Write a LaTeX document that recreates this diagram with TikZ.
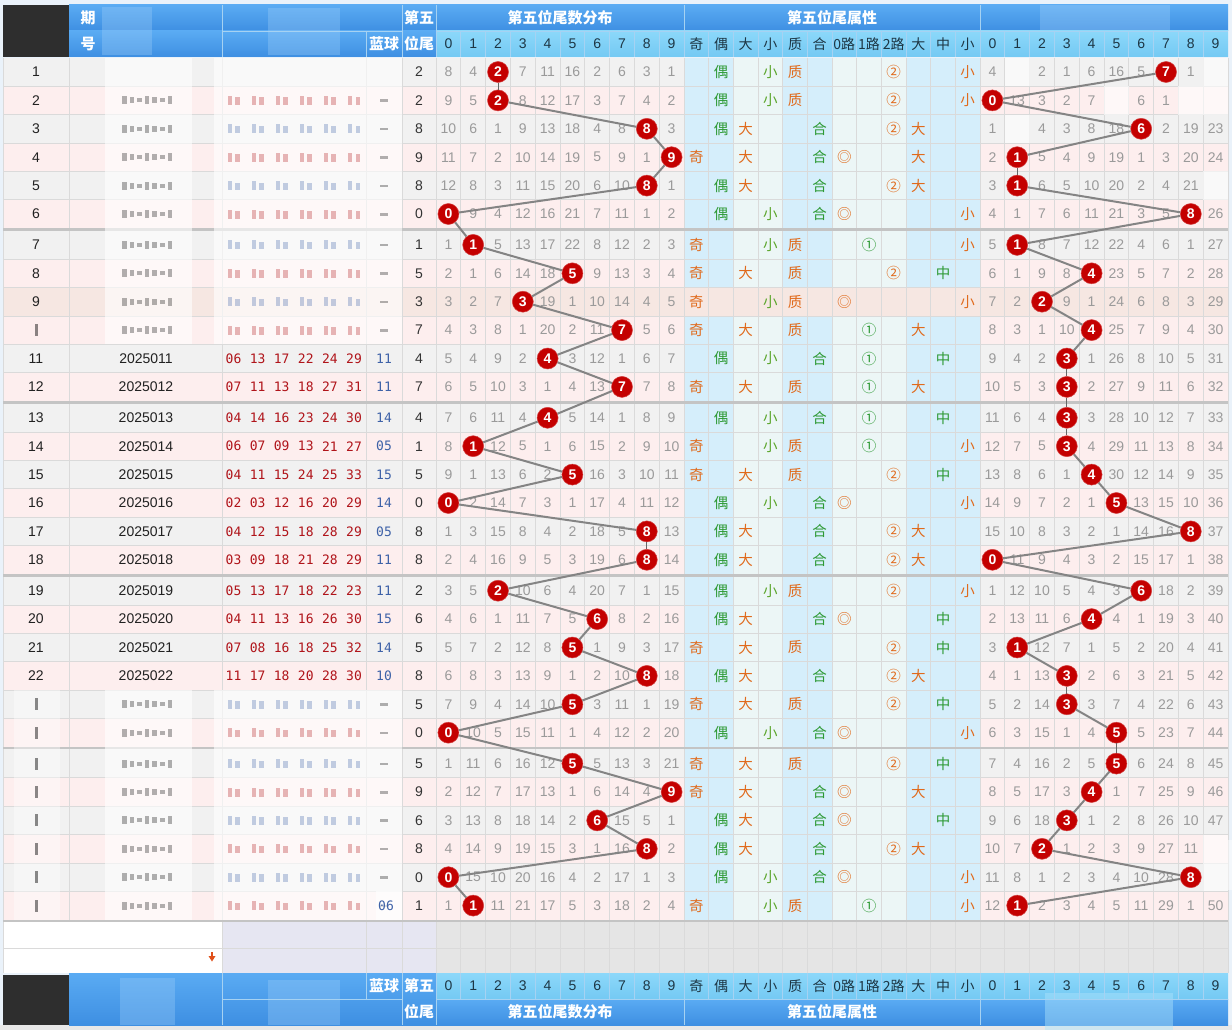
\documentclass[tikz,border=0pt]{standalone}
\usepackage{fontspec}
\setmainfont{Liberation Sans}
\newfontfamily\cjk{Noto Sans CJK SC}
\newfontfamily\monof{DejaVu Sans Mono}
\pgfdeclarelayer{bg}
\pgfsetlayers{bg,main}
\definecolor{pagebg}{HTML}{EAF2FA}
\definecolor{hdrblack}{HTML}{2E2E2E}
\definecolor{hbA}{HTML}{5AABF3}
\definecolor{hbB}{HTML}{3E8FE2}
\definecolor{hcA}{HTML}{8CD8FA}
\definecolor{hcB}{HTML}{74C9F3}
\definecolor{hlinec}{HTML}{A6D2F2}
\definecolor{hdrtext}{HTML}{1D3644}
\definecolor{rowgray}{HTML}{F1F1F1}
\definecolor{rowpink}{HTML}{FDEEEE}
\definecolor{rowbeige}{HTML}{F6E7E2}
\definecolor{attrblue}{HTML}{D5EEFB}
\definecolor{attrlight}{HTML}{ECF6F6}
\definecolor{gridc}{HTML}{DADADA}
\definecolor{sepc}{HTML}{C4C4C4}
\definecolor{distgray}{HTML}{9A9A9A}
\definecolor{ballred}{HTML}{C40000}
\definecolor{conngray}{HTML}{848484}
\definecolor{aorange}{HTML}{E06A1C}
\definecolor{agreen}{HTML}{2E9A35}
\definecolor{alime}{HTML}{5AA52A}
\definecolor{redtxt}{HTML}{B0141A}
\definecolor{bluetxt}{HTML}{3E62A8}
\definecolor{lav}{HTML}{E6E6F2}
\definecolor{emptyg}{HTML}{E5E5E5}
\definecolor{arrowc}{HTML}{E0501A}
\tikzset{
  txt/.style={inner sep=0pt, font=\fontsize{14}{16}\selectfont},
  dist/.style={txt, text=distgray},
  etext/.style={txt, text=black!80},
  ntext/.style={txt, text=black!87},
  redno/.style={inner sep=0pt, text=redtxt, font=\monof\fontsize{13}{15}\selectfont},
  blueno/.style={inner sep=0pt, text=bluetxt, font=\monof\fontsize{13}{15}\selectfont},
  lotball/.style={circle, fill=ballred, draw=ballred!75!white, line width=0.5pt, inner sep=0pt, minimum size=21pt, text=white, font=\fontsize{14}{16}\selectfont\bfseries},
  conn/.style={draw=conngray, line width=2pt},
  connthin/.style={draw=black!60, line width=0.8pt},
  attr/.style={inner sep=0pt, font=\cjk\fontsize{14.5}{16}\selectfont},
  hw/.style={inner sep=0pt, text=white, font=\cjk\fontsize{15}{17}\selectfont\bfseries},
  hd/.style={inner sep=0pt, text=hdrtext, font=\cjk\fontsize{14}{16}\selectfont},
  hdn/.style={inner sep=0pt, text=hdrtext, font=\fontsize{14}{16}\selectfont},
  hl/.style={draw=hlinec, line width=0.8pt},
  gridln/.style={draw=gridc, line width=0.7pt},
  blurwhite/.style={fill=white, fill opacity=0.6},
  smudge/.style={fill opacity=0.3},
}
\def\blurmark{b}
\newcommand\ycalc[1]{\pgfmathsetmacro\yc{72+(#1-1)*28.4+floor((#1-1)/6)*2.5}%
  \pgfmathsetmacro\yt{\yc-14.2}\pgfmathsetmacro\yb{\yc+14.2}}
\newcommand\attrnode[4]{\node[attr,text=#3] (A-#1-#2) at ({696.33+24.667*#2},\yc) {#4};}
\newcommand\drawrow[5]{%
 \ycalc{#1}%
 \expandafter\xdef\csname LE#1\endcsname{#2}%
 \expandafter\xdef\csname RE#1\endcsname{#4}%
 \begin{pgfonlayer}{bg}
  \ifodd#1\relax \fill[rowgray] (3,\yt) rectangle (1228,\yb);
  \else \fill[rowpink] (3,\yt) rectangle (1228,\yb); \fi
  \ifnum#1=9\relax \fill[rowbeige] (3,\yt) rectangle (1228,\yb);
  \else
   \foreach \k in {0,1,4,5,9,10,11} {\fill[attrblue] ({684+24.667*\k},\yt) rectangle ({684+24.667*(\k+1)},\yb);}
   \foreach \k in {2,3,6,7,8} {\fill[attrlight] ({684+24.667*\k},\yt) rectangle ({684+24.667*(\k+1)},\yb);}
  \fi
 \end{pgfonlayer}
 \node[etext] (E-#1) at (419,\yc) {#2};
 \foreach \v [count=\j from 0] in {#3} {%
   \ifnum\j=#2\relax \node[lotball] (L-#1) at ({448.4+24.8*\j},\yc) {\v};%
   \else \node[dist] (L-#1-\j) at ({448.4+24.8*\j},\yc) {\v};\fi}
 \ifodd#2\relax \attrnode{#1}{0}{aorange}{奇}\else \attrnode{#1}{1}{agreen}{偶}\fi
 \ifnum#2>4\relax \attrnode{#1}{2}{aorange}{大}\else \attrnode{#1}{3}{alime}{小}\fi
 \ifcase#2\relax \def\zh{0}\or\def\zh{1}\or\def\zh{1}\or\def\zh{1}\or\def\zh{0}\or\def\zh{1}\or\def\zh{0}\or\def\zh{1}\or\def\zh{0}\else\def\zh{0}\fi
 \ifnum\zh=1\relax \attrnode{#1}{4}{aorange}{质}\else \attrnode{#1}{5}{agreen}{合}\fi
 \pgfmathtruncatemacro\md{mod(#2,3)}%
 \ifcase\md\relax \attrnode{#1}{6}{aorange}{◎}\or \attrnode{#1}{7}{agreen}{①}\or \attrnode{#1}{8}{aorange}{②}\fi
 \ifnum#2>6\relax \attrnode{#1}{9}{aorange}{大}\else\ifnum#2>3\relax \attrnode{#1}{10}{agreen}{中}\else \attrnode{#1}{11}{aorange}{小}\fi\fi
 \foreach \v [count=\j from 0] in {#5} {%
   \edef\tmpv{\v}%
   \ifnum\j=#4\relax \node[lotball] (R-#1) at ({992.4+24.8*\j},\yc) {\v};%
   \else\ifx\tmpv\blurmark \fill[blurwhite] ({980+24.8*\j},\yt) rectangle ({980+24.8*(\j+1)},\yb);%
   \else \node[dist] (R-#1-\j) at ({992.4+24.8*\j},\yc) {\v};\fi\fi}
}
\newcommand\leftvis[5]{\ycalc{#1}%
 \node[ntext] (N-#1) at (36,\yc) {#2};
 \node[ntext] (Q-#1) at (146,\yc) {#3};
 \foreach \r [count=\j from 0] in {#4} {\node[redno] (C-#1-\j) at ({233.5+24.1*\j},\yc) {\r};}
 \node[blueno] (B-#1) at (384,\yc) {#5};}
\newcommand\smudgeB[1]{\ycalc{#1}%
  \foreach \j/\h in {0/4,1/3,2/2,3/4,4/3,5/2,6/4} {\fill[black,smudge] ({122+7.6*\j},\yc-\h) rectangle ({126.5+7.6*\j},\yc+\h);}
  \ifodd#1\relax\def\sc{bluetxt}\else\def\sc{redtxt}\fi
  \foreach \j in {0,...,5} {\fill[\sc,smudge] ({227.5+24.1*\j},\yc-4.5) rectangle ({231.5+24.1*\j},\yc+4.5);
     \fill[\sc,smudge] ({235+24.1*\j},\yc-3) rectangle ({239.5+24.1*\j},\yc+4.5);}
  \fill[black,smudge] (380,\yc-1) rectangle (388,\yc+1.5);}
\newcommand\smudgeA[1]{\ycalc{#1}\fill[black,fill opacity=0.45] (34.5,\yc-6) rectangle (37.5,\yc+6);}
\begin{document}
\begin{tikzpicture}[x=1pt,y=-1pt]
\useasboundingbox (0,0) rectangle (1232,1030);
\begin{pgfonlayer}{bg}
\fill[pagebg] (0,0) rectangle (1232,1030);
\fill[black!9] (0,1025) rectangle (1232,1030);
\end{pgfonlayer}
% ---------------- data rows
\drawrow{1}{2}{8,4,2,7,11,16,2,6,3,1}{7}{4,b,2,1,6,16,5,7,1,b}
\drawrow{2}{2}{9,5,2,8,12,17,3,7,4,2}{0}{0,13,3,2,7,b,6,1,b,b}
\drawrow{3}{8}{10,6,1,9,13,18,4,8,8,3}{6}{1,b,4,3,8,18,6,2,19,23}
\drawrow{4}{9}{11,7,2,10,14,19,5,9,1,9}{1}{2,1,5,4,9,19,1,3,20,24}
\drawrow{5}{8}{12,8,3,11,15,20,6,10,8,1}{1}{3,1,6,5,10,20,2,4,21,b}
\drawrow{6}{0}{0,9,4,12,16,21,7,11,1,2}{8}{4,1,7,6,11,21,3,5,8,26}
\drawrow{7}{1}{1,1,5,13,17,22,8,12,2,3}{1}{5,1,8,7,12,22,4,6,1,27}
\drawrow{8}{5}{2,1,6,14,18,5,9,13,3,4}{4}{6,1,9,8,4,23,5,7,2,28}
\drawrow{9}{3}{3,2,7,3,19,1,10,14,4,5}{2}{7,2,2,9,1,24,6,8,3,29}
\drawrow{10}{7}{4,3,8,1,20,2,11,7,5,6}{4}{8,3,1,10,4,25,7,9,4,30}
\drawrow{11}{4}{5,4,9,2,4,3,12,1,6,7}{3}{9,4,2,3,1,26,8,10,5,31}
\drawrow{12}{7}{6,5,10,3,1,4,13,7,7,8}{3}{10,5,3,3,2,27,9,11,6,32}
\drawrow{13}{4}{7,6,11,4,4,5,14,1,8,9}{3}{11,6,4,3,3,28,10,12,7,33}
\drawrow{14}{1}{8,1,12,5,1,6,15,2,9,10}{3}{12,7,5,3,4,29,11,13,8,34}
\drawrow{15}{5}{9,1,13,6,2,5,16,3,10,11}{4}{13,8,6,1,4,30,12,14,9,35}
\drawrow{16}{0}{0,2,14,7,3,1,17,4,11,12}{5}{14,9,7,2,1,5,13,15,10,36}
\drawrow{17}{8}{1,3,15,8,4,2,18,5,8,13}{8}{15,10,8,3,2,1,14,16,8,37}
\drawrow{18}{8}{2,4,16,9,5,3,19,6,8,14}{0}{0,11,9,4,3,2,15,17,1,38}
\drawrow{19}{2}{3,5,2,10,6,4,20,7,1,15}{6}{1,12,10,5,4,3,6,18,2,39}
\drawrow{20}{6}{4,6,1,11,7,5,6,8,2,16}{4}{2,13,11,6,4,4,1,19,3,40}
\drawrow{21}{5}{5,7,2,12,8,5,1,9,3,17}{1}{3,1,12,7,1,5,2,20,4,41}
\drawrow{22}{8}{6,8,3,13,9,1,2,10,8,18}{3}{4,1,13,3,2,6,3,21,5,42}
\drawrow{23}{5}{7,9,4,14,10,5,3,11,1,19}{3}{5,2,14,3,3,7,4,22,6,43}
\drawrow{24}{0}{0,10,5,15,11,1,4,12,2,20}{5}{6,3,15,1,4,5,5,23,7,44}
\drawrow{25}{5}{1,11,6,16,12,5,5,13,3,21}{5}{7,4,16,2,5,5,6,24,8,45}
\drawrow{26}{9}{2,12,7,17,13,1,6,14,4,9}{4}{8,5,17,3,4,1,7,25,9,46}
\drawrow{27}{6}{3,13,8,18,14,2,6,15,5,1}{3}{9,6,18,3,1,2,8,26,10,47}
\drawrow{28}{8}{4,14,9,19,15,3,1,16,8,2}{2}{10,7,2,1,2,3,9,27,11,b}
\drawrow{29}{0}{0,15,10,20,16,4,2,17,1,3}{8}{11,8,1,2,3,4,10,28,8,b}
\drawrow{30}{1}{1,1,11,21,17,5,3,18,2,4}{1}{12,1,2,3,4,5,11,29,1,50}
% ---------------- empty rows, grid and separators
\begin{pgfonlayer}{bg}
 \fill[white] (3,922.3) rectangle (222,973);
 \fill[lav] (222,922.3) rectangle (436,973);
 \fill[emptyg] (436,922.3) rectangle (1228,973);
 \foreach \x in {69} \draw[gridln] (\x,57.8) -- (\x,920);
 \foreach \x in {3,222,366,402,436,684,980,1228} \draw[gridln] (\x,57.8) -- (\x,973);
 \foreach \k in {1,...,9} {\draw[gridln] ({436+24.8*\k},57.8) -- ({436+24.8*\k},973);
   \draw[gridln] ({980+24.8*\k},57.8) -- ({980+24.8*\k},973);}
 \foreach \k in {1,...,11} \draw[gridln] ({684+24.667*\k},57.8) -- ({684+24.667*\k},973);
 \foreach \i in {1,...,29} {\ycalc{\i}\draw[gridln] (3,\yb) -- (1228,\yb);}
 \draw[gridln] (3,948) -- (1228,948);
 \foreach \i in {6,12,18,24,30} {\ycalc{\i}\fill[sepc] (3,\yb) rectangle (1228,\yb+2.5);}
\end{pgfonlayer}
% ---------------- left columns
\foreach \i in {1,...,9} {\ycalc{\i}\node[ntext] (N-\i) at (36,\yc) {\i};}
\leftvis{11}{11}{2025011}{06,13,17,22,24,29}{11}
\leftvis{12}{12}{2025012}{07,11,13,18,27,31}{11}
\leftvis{13}{13}{2025013}{04,14,16,23,24,30}{14}
\leftvis{14}{14}{2025014}{06,07,09,13,21,27}{05}
\leftvis{15}{15}{2025015}{04,11,15,24,25,33}{15}
\leftvis{16}{16}{2025016}{02,03,12,16,20,29}{14}
\leftvis{17}{17}{2025017}{04,12,15,18,28,29}{05}
\leftvis{18}{18}{2025018}{03,09,18,21,28,29}{11}
\leftvis{19}{19}{2025019}{05,13,17,18,22,23}{11}
\leftvis{20}{20}{2025020}{04,11,13,16,26,30}{15}
\leftvis{21}{21}{2025021}{07,08,16,18,25,32}{14}
\leftvis{22}{22}{2025022}{11,17,18,20,28,30}{10}
% blurred areas
\fill[blurwhite] (105,57.8) rectangle (192,344.3);
\fill[blurwhite] (214,57.8) rectangle (402,344.3);
\fill[blurwhite, fill opacity=0.4] (14,690.1) rectangle (60,919.8);
\fill[blurwhite] (105,690.1) rectangle (192,919.8);
\fill[blurwhite] (214,690.1) rectangle (402,919.8);
\fill[white, fill opacity=0.5] (1228,840) rectangle (1232,890);
\foreach \i in {2,...,10} {\smudgeB{\i}}
\foreach \i in {23,...,30} {\smudgeB{\i}\smudgeA{\i}}
\smudgeA{10}
\ycalc{30}\fill[blurwhite] (376,\yt) rectangle (402,\yb);
\node[blueno] (B-30) at (386,\yc) {06};
% arrow icon
\fill[arrowc] (208.5,956) -- (215.5,956) -- (212,961.5) -- cycle;
\fill[arrowc] (211,951.5) rectangle (213,956.5);
% ---------------- connectors
\foreach \i in {1,...,29} {%
  \pgfmathtruncatemacro\n{\i+1}%
  \edef\ea{\csname LE\i\endcsname}\edef\eb{\csname LE\n\endcsname}%
  \ifnum\ea=\eb\relax \draw[connthin] (L-\i) -- (L-\n);\else \draw[conn] (L-\i) -- (L-\n);\fi
  \edef\ea{\csname RE\i\endcsname}\edef\eb{\csname RE\n\endcsname}%
  \ifnum\ea=\eb\relax \draw[connthin] (R-\i) -- (R-\n);\else \draw[conn] (R-\i) -- (R-\n);\fi
}
% ---------------- header
\fill[hdrblack] (3,5) rectangle (69,57);
\shade[top color=hbA, bottom color=hbB] (69,5) rectangle (1228,31);
\shade[top color=hbA, bottom color=hbB] (69,31) rectangle (436,57);
\shade[top color=hcA, bottom color=hcB] (436,31) rectangle (1228,57);
\fill[hbA!60!white, fill opacity=0.35] (102,7) rectangle (152,55);
\fill[hbA!60!white, fill opacity=0.35] (268,8) rectangle (340,55);
\fill[hbA!50!white, fill opacity=0.3] (1040,5) rectangle (1170,30);
\foreach \x in {222,402,436,684,980} \draw[hl] (\x,5) -- (\x,57);
\draw[hl] (222,31) -- (402,31);
\draw[hl] (436,31) -- (1228,31);
\draw[hl] (366,31) -- (366,57);
\foreach \k in {1,...,9} {\draw[hl] ({436+24.8*\k},31) -- ({436+24.8*\k},57);
  \draw[hl] ({980+24.8*\k},31) -- ({980+24.8*\k},57);}
\foreach \k in {1,...,11} \draw[hl] ({684+24.667*\k},31) -- ({684+24.667*\k},57);
\node[hw] (h-qi) at (88,18) {期};
\node[hw] (h-hao) at (88,44) {号};
\node[hw] (h-lq) at (384,44) {蓝球};
\node[hw] (h-dw) at (419,18) {第五};
\node[hw] (h-wy) at (419,44) {位尾};
\node[hw] (h-g1) at (560,18) {第五位尾数分布};
\node[hw] (h-g2) at (832,18) {第五位尾属性};
\foreach \k in {0,...,9} {\node[hdn] (HL-\k) at ({448.4+24.8*\k},44) {\k};
  \node[hdn] (HR-\k) at ({992.4+24.8*\k},44) {\k};}
\foreach \t [count=\k from 0] in {奇,偶,大,小,质,合,0路,1路,2路,大,中,小}
  {\node[hd] (HA-\k) at ({696.33+24.667*\k},44) {\t};}
% ---------------- footer
\fill[hdrblack] (3,975) rectangle (69,1025);
\shade[top color=hbA, bottom color=hbB] (69,973) rectangle (436,1025);
\shade[top color=hcA, bottom color=hcB] (436,973) rectangle (1228,999);
\shade[top color=hbA, bottom color=hbB] (436,999) rectangle (1228,1025);
\fill[hbA!60!white, fill opacity=0.35] (120,978) rectangle (175,1025);
\fill[hbA!60!white, fill opacity=0.35] (268,980) rectangle (340,1025);
\fill[hcA!70!white, fill opacity=0.45] (1045,993) rectangle (1173,1030);
\foreach \x in {222,402,436} \draw[hl] (\x,973) -- (\x,1025);
\draw[hl] (366,973) -- (366,999);
\draw[hl] (222,999) -- (402,999);
\draw[hl] (436,999) -- (1228,999);
\foreach \x in {684,980} \draw[hl] (\x,973) -- (\x,1025);
\foreach \k in {1,...,9} {\draw[hl] ({436+24.8*\k},973) -- ({436+24.8*\k},999);
  \draw[hl] ({980+24.8*\k},973) -- ({980+24.8*\k},999);}
\foreach \k in {1,...,11} \draw[hl] ({684+24.667*\k},973) -- ({684+24.667*\k},999);
\node[hw] (f-lq) at (384,986) {蓝球};
\node[hw] (f-dw) at (419,986) {第五};
\node[hw] (f-wy) at (419,1012) {位尾};
\node[hw] (f-g1) at (560,1012) {第五位尾数分布};
\node[hw] (f-g2) at (832,1012) {第五位尾属性};
\foreach \k in {0,...,9} {\node[hdn] (FL-\k) at ({448.4+24.8*\k},986) {\k};
  \node[hdn] (FR-\k) at ({992.4+24.8*\k},986) {\k};}
\foreach \t [count=\k from 0] in {奇,偶,大,小,质,合,0路,1路,2路,大,中,小}
  {\node[hd] (FA-\k) at ({696.33+24.667*\k},986) {\t};}
\end{tikzpicture}
\end{document}
